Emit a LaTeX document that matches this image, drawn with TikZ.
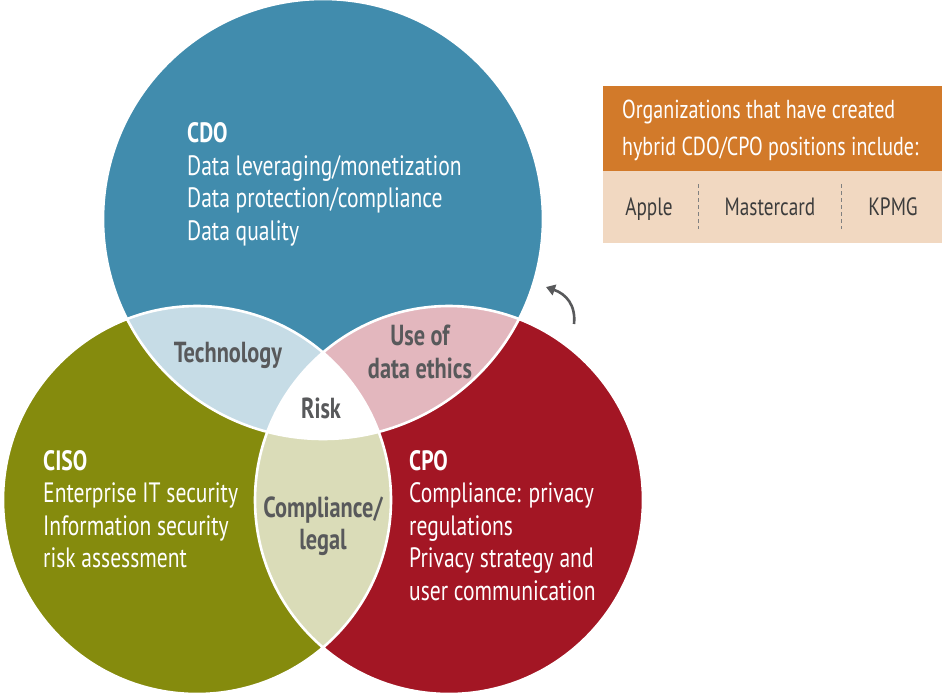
\documentclass[tikz,border=0pt]{standalone}
\usepackage{fontspec}
\setmainfont{PT Sans}[FakeStretch=0.77]
\usetikzlibrary{arrows.meta}

\definecolor{cdoblue}{HTML}{418CAD}
\definecolor{cisogreen}{HTML}{858B0D}
\definecolor{cpored}{HTML}{A31624}
\definecolor{techblue}{HTML}{C6DCE6}
\definecolor{ethicspink}{HTML}{E3B7BE}
\definecolor{legalbeige}{HTML}{DADCB8}
\definecolor{labelgray}{HTML}{58595B}
\definecolor{hdrorange}{HTML}{D27A2A}
\definecolor{bodypeach}{HTML}{F1D8C1}
\definecolor{listgray}{HTML}{3C3C3C}

% circle outlines of the three roles
\newcommand\cdoCircle{(323,219) circle[radius=220pt]}
\newcommand\cisoCircle{(197,500) circle[radius=194pt]}
\newcommand\cpoCircle{(449,500) circle[radius=194pt]}

\tikzset{
  roletext/.style={anchor=base west, inner sep=0pt, text=white, font=\fontsize{28}{32}\selectfont},
  roletitle/.style={roletext, font=\fontsize{28}{32}\selectfont\bfseries},
  overlap/.style={anchor=base, inner sep=0pt, text=labelgray, font=\fontsize{29}{32}\selectfont\bfseries},
  hdrtext/.style={anchor=base west, inner sep=0pt, text=white, font=\fontsize{26}{30}\selectfont},
  firm/.style={anchor=base, inner sep=0pt, text=listgray, font=\fontsize{25}{30}\selectfont},
  sep/.style={draw=gray, line width=0.8pt, dash pattern=on 4pt off 3pt},
}

\begin{document}
\begin{tikzpicture}[x=1pt,y=-1pt]
\useasboundingbox (0,0) rectangle (942,696);

% main circles
\fill[cdoblue] \cdoCircle;
\fill[cisogreen] \cisoCircle;
\fill[cpored] \cpoCircle;

% pairwise overlaps
\begin{scope}
  \clip \cdoCircle;
  \fill[techblue] \cisoCircle;
  \fill[ethicspink] \cpoCircle;
\end{scope}
\begin{scope}
  \clip \cisoCircle;
  \fill[legalbeige] \cpoCircle;
\end{scope}
% triple overlap
\begin{scope}
  \clip \cdoCircle;
  \clip \cisoCircle;
  \fill[white] \cpoCircle;
\end{scope}

% white dividing lines
\draw[white, line width=2.6pt] \cdoCircle \cisoCircle \cpoCircle;

% CDO
\node[roletitle] (cdo) at (187,142) {CDO};
\node[roletext] (cdo1) at (187,175) {Data leveraging/monetization};
\node[roletext] (cdo2) at (187,207) {Data protection/compliance};
\node[roletext] (cdo3) at (187,240) {Data quality};

% CISO
\node[roletitle] (ciso) at (43,470) {CISO};
\node[roletext] (ciso1) at (43,502) {Enterprise IT security};
\node[roletext] (ciso2) at (43,535) {Information security};
\node[roletext] (ciso3) at (43,567) {risk assessment};

% CPO
\node[roletitle] (cpo) at (409,470) {CPO};
\node[roletext] (cpo1) at (409,502) {Compliance: privacy};
\node[roletext] (cpo2) at (409,535) {regulations};
\node[roletext] (cpo3) at (409,567) {Privacy strategy and};
\node[roletext] (cpo4) at (409,600) {user communication};

% overlap labels
\node[overlap] (tech) at (228,362) {Technology};
\node[overlap] (ethics1) at (420,345) {Use of};
\node[overlap] (ethics2) at (420,378) {data ethics};
\node[overlap] (risk) at (321,418) {Risk};
\node[overlap] (legal1) at (323,517) {Compliance/};
\node[overlap] (legal2) at (323,549) {legal};

% curved arrow
\coordinate (arrS) at (574,324);
\coordinate (arrE) at (546,287);
\draw[labelgray, line width=2.6pt, -{Triangle[length=9pt,width=11pt]}]
  (arrS) .. controls (576,305) and (566,294) .. (arrE);

% hybrid positions box
\node[fill=hdrorange, minimum width=339pt, minimum height=85pt, inner sep=0pt, anchor=north west] (hdr) at (603,86) {};
\node[fill=bodypeach, minimum width=339pt, minimum height=72pt, inner sep=0pt, anchor=north west] (body) at (603,171) {};
\node[hdrtext] (hdr1) at (622,118) {Organizations that have created};
\node[hdrtext] (hdr2) at (622,155) {hybrid CDO/CPO positions include:};
\node[firm] (apple) at (649,215) {Apple};
\node[firm] (mc) at (770,215) {Mastercard};
\node[firm] (kpmg) at (893,215) {KPMG};
\coordinate (s1a) at (698,184);
\coordinate (s1b) at (698,229);
\coordinate (s2a) at (841,184);
\coordinate (s2b) at (841,229);
\draw[sep] (s1a) -- (s1b);
\draw[sep] (s2a) -- (s2b);
\end{tikzpicture}
\end{document}
